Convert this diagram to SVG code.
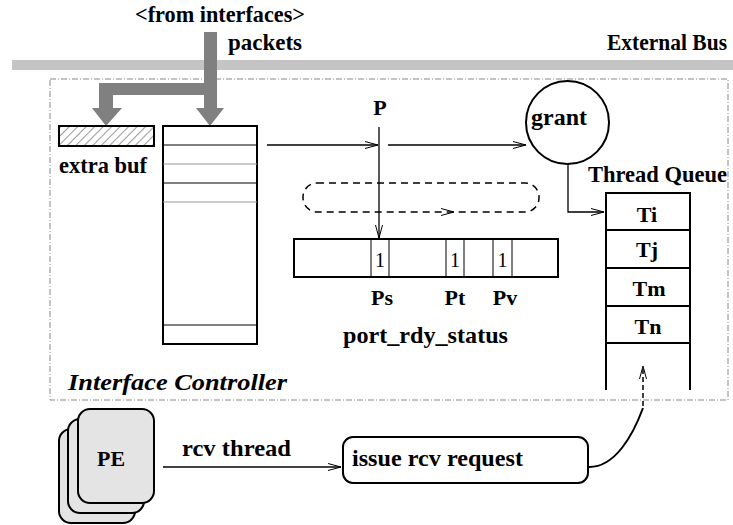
<svg xmlns="http://www.w3.org/2000/svg" width="733" height="525" viewBox="0 0 733 525">
<defs>
<style>
text{font-family:'Liberation Serif','Times New Roman',serif}
.t{font-weight:bold;font-size:22px;fill:#000}
.w{font-size:23.5px}
.n{font-size:20px;fill:#000}
.ln{stroke:#000;stroke-width:1.3;fill:none}
.box{stroke:#000;stroke-width:2;fill:#fff}
.thin{stroke:#000;stroke-width:1;fill:none}
.pe{stroke:#000;stroke-width:2;fill:#e4e4e4}
</style>
<marker id="oa" viewBox="0 0 14 8" refX="13" refY="4" markerWidth="14" markerHeight="8" markerUnits="userSpaceOnUse" orient="auto">
<path d="M0,0.5 L13,4 L0,7.5" fill="none" stroke="#000" stroke-width="1"/>
</marker>
<pattern id="hatch" patternUnits="userSpaceOnUse" width="6" height="6" patternTransform="rotate(45)">
<rect width="6" height="6" fill="#fff"/>
<line x1="0" y1="0" x2="0" y2="6" stroke="#333" stroke-width="1"/>
</pattern>
</defs>

<g id="bus">
<rect x="12" y="60" width="721" height="10" fill="#c4c4c4"/>
<text class="t w" x="607" y="50" textLength="120" lengthAdjust="spacingAndGlyphs">External Bus</text>
</g>

<g id="controller">
<rect x="50" y="79" width="678" height="321" fill="none" stroke="#888" stroke-width="1" stroke-dasharray="6,2,1,2"/>
<text class="t w" x="68" y="390" font-style="italic" textLength="219" lengthAdjust="spacingAndGlyphs">Interface Controller</text>
</g>

<g id="input">
<text class="t w" x="135" y="22" textLength="170" lengthAdjust="spacingAndGlyphs">&lt;from interfaces&gt;</text>
<text class="t w" x="228" y="50" textLength="74" lengthAdjust="spacingAndGlyphs">packets</text>
<path d="M204,32 H217 V108 H224 L210,126 L196,108 H204 V95 H113 V108 H122 L106,126 L92,108 H99 V83 H204 Z" fill="#808080"/>
</g>

<g id="extra-buf">
<rect x="59" y="126" width="95" height="20" fill="url(#hatch)" stroke="#000" stroke-width="2"/>
<text class="t w" x="59" y="173" textLength="88" lengthAdjust="spacingAndGlyphs">extra buf</text>
</g>

<g id="packet-buffer">
<rect x="163" y="126" width="94" height="218" class="box"/>
<line x1="163" y1="145" x2="257" y2="145" class="thin"/>
<line x1="163" y1="164" x2="257" y2="164" stroke="#999" stroke-width="1"/>
<line x1="163" y1="183" x2="257" y2="183" class="thin"/>
<line x1="163" y1="202" x2="257" y2="202" stroke="#999" stroke-width="1"/>
<line x1="163" y1="325" x2="257" y2="325" class="thin"/>
</g>

<g id="P">
<text class="t" x="380" y="115" text-anchor="middle">P</text>
</g>

<g id="grant">
<circle cx="567.5" cy="122.5" r="41.5" stroke="#000" stroke-width="2" fill="none"/>
<text class="t w" x="531" y="125" textLength="56" lengthAdjust="spacingAndGlyphs">grant</text>
</g>

<g id="port-loop">
<rect x="303" y="183" width="236" height="29" rx="14" fill="none" stroke="#000" stroke-width="1.5" stroke-dasharray="7,5"/>
</g>

<g id="port-rdy-status">
<rect x="294" y="239" width="264" height="38" class="box"/>
<line x1="371" y1="239" x2="371" y2="277" class="thin"/>
<line x1="389" y1="239" x2="389" y2="277" class="thin"/>
<line x1="446" y1="239" x2="446" y2="277" class="thin"/>
<line x1="464" y1="239" x2="464" y2="277" class="thin"/>
<line x1="493" y1="239" x2="493" y2="277" class="thin"/>
<line x1="512" y1="239" x2="512" y2="277" class="thin"/>
<text class="n" x="380" y="267" text-anchor="middle">1</text>
<text class="n" x="455" y="267" text-anchor="middle">1</text>
<text class="n" x="502.5" y="267" text-anchor="middle">1</text>
<text class="t" x="382" y="305" text-anchor="middle">Ps</text>
<text class="t" x="455" y="305" text-anchor="middle">Pt</text>
<text class="t" x="505" y="305" text-anchor="middle">Pv</text>
<text class="t w" x="343" y="343" textLength="165" lengthAdjust="spacingAndGlyphs">port_rdy_status</text>
</g>

<g id="thread-queue">
<text class="t w" x="588" y="182" textLength="139" lengthAdjust="spacingAndGlyphs">Thread Queue</text>
<path d="M606,390 V193 H690 V390" stroke="#000" stroke-width="2" fill="none"/>
<line x1="606" y1="230" x2="690" y2="230" stroke="#000" stroke-width="2"/>
<line x1="606" y1="268" x2="690" y2="268" stroke="#000" stroke-width="2"/>
<line x1="606" y1="306" x2="690" y2="306" stroke="#000" stroke-width="2"/>
<line x1="606" y1="343" x2="690" y2="343" stroke="#000" stroke-width="2"/>
<text class="t" x="647" y="222" text-anchor="middle">Ti</text>
<text class="t" x="647" y="257" text-anchor="middle">Tj</text>
<text class="t" x="649" y="296" text-anchor="middle">Tm</text>
<text class="t" x="648" y="334" text-anchor="middle">Tn</text>
</g>

<g id="PE">
<rect x="59" y="429" width="76" height="94" rx="12" class="pe"/>
<rect x="68" y="419" width="76" height="94" rx="12" class="pe"/>
<rect x="78" y="409" width="76" height="94" rx="12" class="pe"/>
<text class="t" x="97" y="466" textLength="28" lengthAdjust="spacingAndGlyphs">PE</text>
</g>

<g id="issue">
<rect x="343" y="437" width="245" height="46" rx="10" class="box"/>
<text class="t w" x="352" y="466" textLength="171" lengthAdjust="spacingAndGlyphs">issue rcv request</text>
</g>

<g id="connectors">
<line x1="267" y1="145" x2="378" y2="145" class="ln" marker-end="url(#oa)"/>
<line x1="388" y1="145" x2="526" y2="145" class="ln" marker-end="url(#oa)"/>
<line x1="379" y1="127" x2="379" y2="238" class="ln" marker-end="url(#oa)"/>
<line x1="440" y1="212" x2="454" y2="212" stroke="none" marker-end="url(#oa)"/>
<path d="M568,164 V212 H604" class="ln" marker-end="url(#oa)"/>
<line x1="163" y1="467" x2="341" y2="467" class="ln" marker-end="url(#oa)"/>
<path d="M588,467 C615,468 633,435 643,408" stroke="#000" stroke-width="2" fill="none"/>
<line x1="643" y1="406" x2="643" y2="366" stroke="#000" stroke-width="1.5" stroke-dasharray="5,3" marker-end="url(#oa)"/>
<text class="t w" x="182" y="456" textLength="109" lengthAdjust="spacingAndGlyphs">rcv thread</text>
</g>
</svg>
